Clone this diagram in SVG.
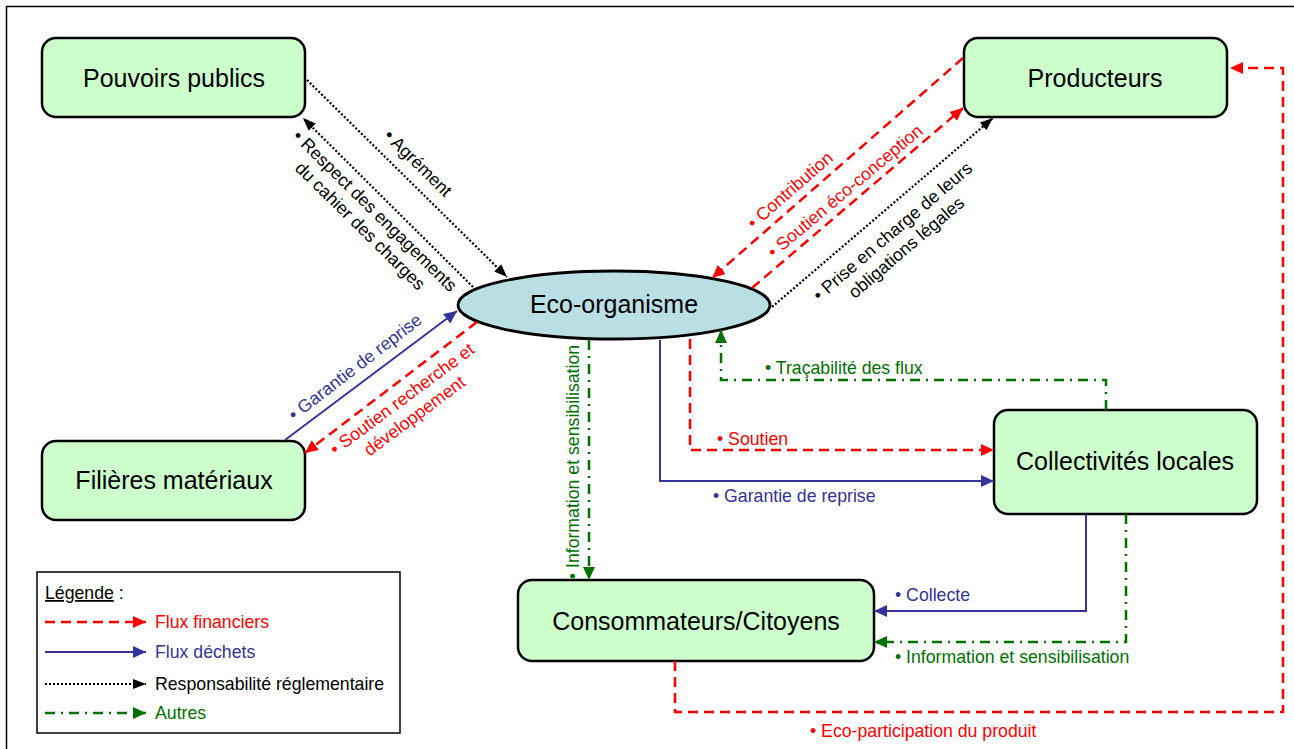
<svg xmlns="http://www.w3.org/2000/svg" width="1294" height="749" viewBox="0 0 1294 749">
<defs>
<style>
.node{fill:#CCFFCC;stroke:#000;stroke-width:2.5}
.eco{fill:#B9DEE3;stroke:#000;stroke-width:2.8}
.nt{font-family:"Liberation Sans",Arial,sans-serif;font-size:25px;fill:#000;text-anchor:middle}
.lb{font-family:"Liberation Sans",Arial,sans-serif;font-size:17.7px}
.c{fill:none}
.fin{stroke:#FF0000;stroke-width:2.5;stroke-dasharray:10,6}
.dec{stroke:#333399;stroke-width:2}
.reg{stroke:#000;stroke-width:2.2;stroke-dasharray:2,2}
.aut{stroke:#007000;stroke-width:2.5;stroke-dasharray:10,6,2,6}
.r{fill:#FF0000}.b{fill:#333399}.k{fill:#000}.g{fill:#007000}
</style>
<marker id="ar" markerUnits="userSpaceOnUse" markerWidth="14" markerHeight="12" refX="13" refY="6" orient="auto"><path d="M0,0 L13,6 L0,12 z" fill="#FF0000"/></marker>
<marker id="ab" markerUnits="userSpaceOnUse" markerWidth="14" markerHeight="12" refX="13" refY="6" orient="auto"><path d="M0,0 L13,6 L0,12 z" fill="#333399"/></marker>
<marker id="ak" markerUnits="userSpaceOnUse" markerWidth="14" markerHeight="12" refX="13" refY="6" orient="auto"><path d="M0,1 L13,6 L0,11 z" fill="#000"/></marker>
<marker id="ag" markerUnits="userSpaceOnUse" markerWidth="14" markerHeight="12" refX="13" refY="6" orient="auto"><path d="M0,0 L13,6 L0,12 z" fill="#007000"/></marker>
</defs>
<rect x="6.5" y="6.5" width="1300" height="800" fill="#fff" stroke="#000" stroke-width="1.5"/>

<g id="pouvoirs-publics"><rect class="node" x="42" y="38" width="263" height="79" rx="14"/><text class="nt" x="174" y="87">Pouvoirs publics</text></g>
<g id="producteurs"><rect class="node" x="964" y="38" width="263" height="79" rx="14"/><text class="nt" x="1095" y="87">Producteurs</text></g>
<g id="eco-organisme"><ellipse class="eco" cx="614" cy="305" rx="156" ry="34"/><text class="nt" x="614" y="313">Eco-organisme</text></g>
<g id="filieres-materiaux"><rect class="node" x="42" y="441" width="263" height="79" rx="14"/><text class="nt" x="174" y="489">Filières matériaux</text></g>
<g id="collectivites-locales"><rect class="node" x="994" y="410" width="263" height="104" rx="14"/><text class="nt" x="1125" y="470">Collectivités locales</text></g>
<g id="consommateurs"><rect class="node" x="518" y="580" width="356" height="81" rx="14"/><text class="nt" x="696" y="630">Consommateurs/Citoyens</text></g>

<g id="connectors">
<path class="c reg" d="M307,80 L507,277" marker-end="url(#ak)"/>
<path class="c reg" d="M473,287 L303,118" marker-end="url(#ak)"/>
<path class="c fin" d="M963,58 L712,278" marker-end="url(#ar)"/>
<path class="c fin" d="M752,288 L963,108" marker-end="url(#ar)"/>
<path class="c reg" d="M772,307 L993,118" marker-end="url(#ak)"/>
<path class="c dec" d="M285,440 L457,311" marker-end="url(#ab)"/>
<path class="c fin" d="M477,322 L305,453" marker-end="url(#ar)"/>
<path class="c aut" d="M589,340 L589,580" marker-end="url(#ag)"/>
<path class="c dec" d="M660,340 L660,481 L994,481" marker-end="url(#ab)"/>
<path class="c fin" d="M690,339 L690,450 L994,450" marker-end="url(#ar)"/>
<path class="c aut" d="M1106,410 L1106,380 L721,380 L721,330" marker-end="url(#ag)"/>
<path class="c dec" d="M1086,514 L1086,611 L874,611" marker-end="url(#ab)"/>
<path class="c aut" d="M1126,514 L1126,642 L874,642" marker-end="url(#ag)"/>
<path class="c fin" d="M675,661 L675,712 L1283,712 L1283,68 L1230,68" marker-end="url(#ar)"/>
</g>

<g id="labels">
<text class="lb k" text-anchor="middle" transform="translate(418,163) rotate(44.6)" dy="6">• Agrément</text>
<text class="lb k" text-anchor="middle" transform="translate(368,218) rotate(44.5)"><tspan x="0" y="-4">• Respect des engagements</tspan><tspan x="0" y="17">du cahier des charges</tspan></text>
<text class="lb r" text-anchor="middle" transform="translate(790,190) rotate(-41)" dy="6">• Contribution</text>
<text class="lb r" text-anchor="middle" transform="translate(845,191) rotate(-40)" dy="6">• Soutien éco-conception</text>
<text class="lb k" text-anchor="middle" transform="translate(899,239) rotate(-40.5)"><tspan x="0" y="-4">• Prise en charge de leurs</tspan><tspan x="0" y="17">obligations légales</tspan></text>
<text class="lb b" text-anchor="middle" transform="translate(355,367) rotate(-37.5)" dy="6">• Garantie de reprise</text>
<text class="lb r" text-anchor="middle" transform="translate(408,407) rotate(-36.5)"><tspan x="0" y="-4">• Soutien recherche et</tspan><tspan x="0" y="17">développement</tspan></text>
<text class="lb g" text-anchor="middle" transform="translate(573,462) rotate(-90)" dy="6">• Information et sensibilisation</text>
<text class="lb r" x="717" y="445">• Soutien</text>
<text class="lb g" x="765" y="374">• Traçabilité des flux</text>
<text class="lb b" x="713" y="502">• Garantie de reprise</text>
<text class="lb b" x="895" y="601">• Collecte</text>
<text class="lb g" x="895" y="663">• Information et sensibilisation</text>
<text class="lb r" x="810" y="737">• Eco-participation du produit</text>
</g>

<g id="legend">
<rect x="37" y="572" width="363" height="161" fill="#fff" stroke="#000" stroke-width="1.5"/>
<text class="lb k" x="45" y="599" font-size="16.5"><tspan text-decoration="underline">Légende</tspan> :</text>
<path class="c fin" d="M45,622 L146,622" marker-end="url(#ar)"/>
<path class="c dec" d="M45,652 L146,652" marker-end="url(#ab)"/>
<path class="c reg" d="M45,684 L146,684" marker-end="url(#ak)"/>
<path class="c aut" d="M45,713 L146,713" marker-end="url(#ag)"/>
<text class="lb r" x="155" y="628">Flux financiers</text>
<text class="lb b" x="155" y="658">Flux déchets</text>
<text class="lb k" x="155" y="690">Responsabilité réglementaire</text>
<text class="lb g" x="155" y="719">Autres</text>
</g>
</svg>
